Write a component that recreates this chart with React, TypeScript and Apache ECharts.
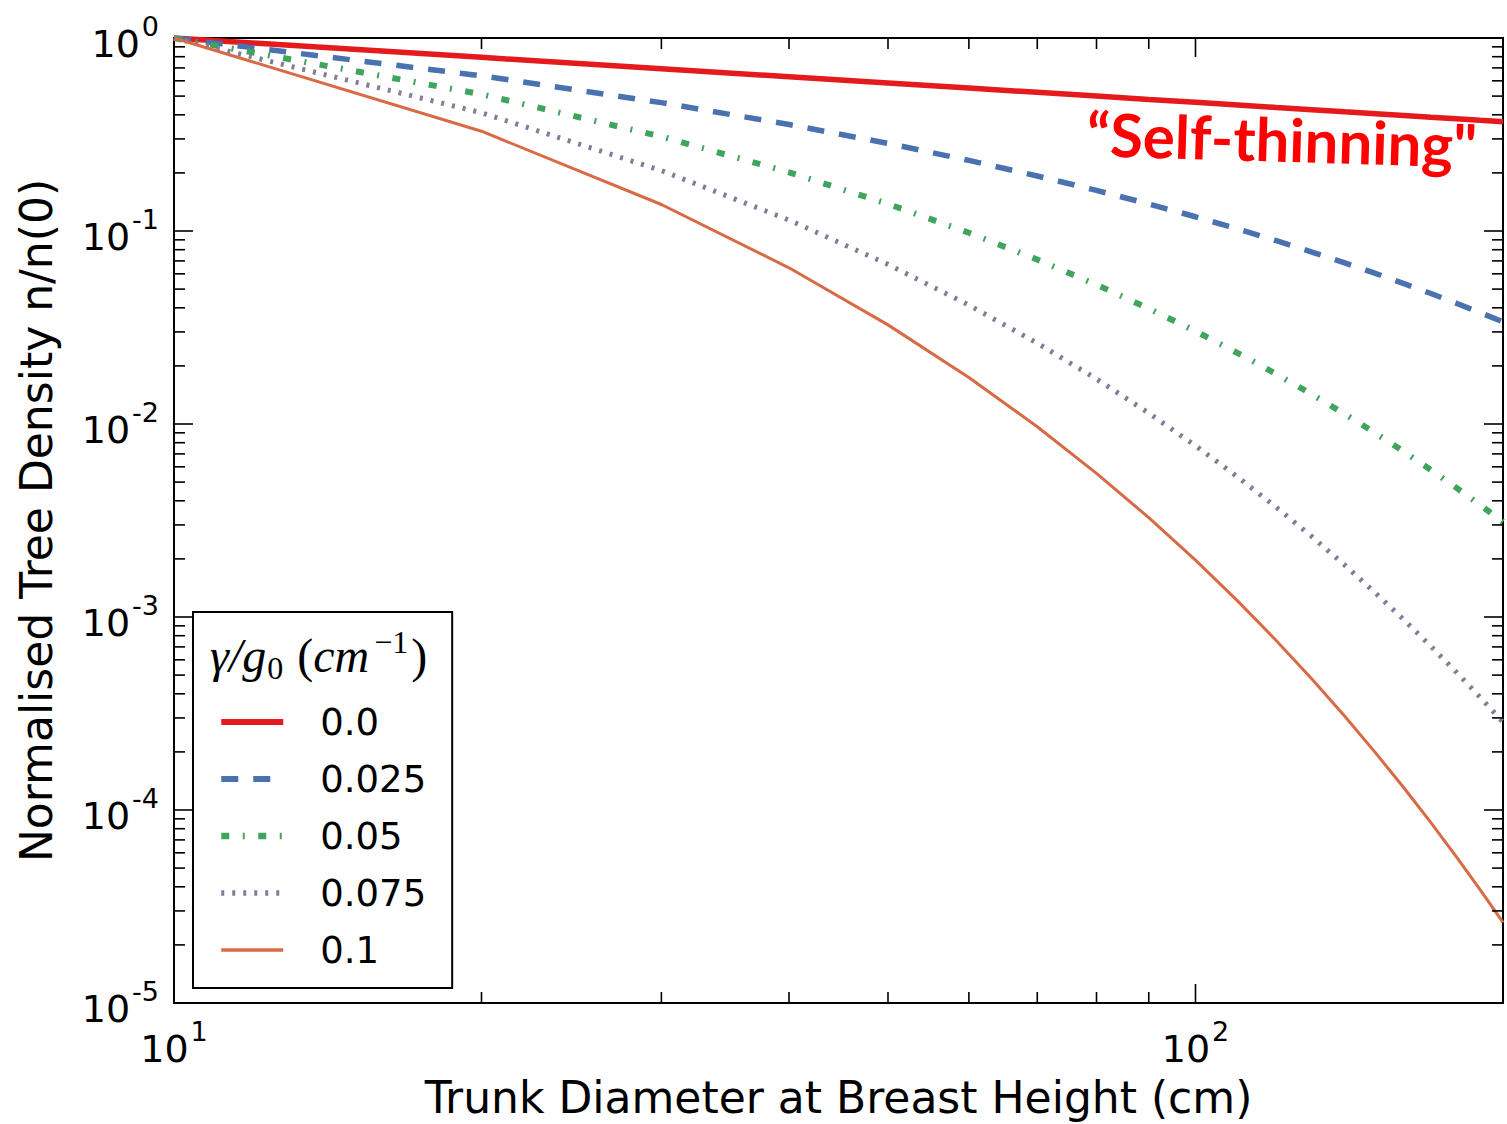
import React, { useEffect, useRef } from 'react';
import * as echarts from 'echarts';

// ---- data ----
const diameters = [10, 20, 30, 40, 50, 60, 70, 80, 90, 100, 110, 120, 130, 140, 150, 160, 170, 180, 190, 200];
const seriesNames = ['0.0', '0.025', '0.05', '0.075', '0.1'];
const density000 = [1, 0.7937, 0.6934, 0.63, 0.5848, 0.5503, 0.5228, 0.5, 0.4807, 0.4642, 0.4498, 0.4368, 0.4254, 0.4149, 0.4055, 0.3969, 0.3889, 0.3816, 0.3747, 0.3684];
const density025 = [1, 0.6368, 0.4624, 0.3562, 0.2843, 0.2321, 0.1928, 0.1623, 0.1381, 0.1185, 0.1024, 0.08903, 0.07782, 0.06835, 0.06029, 0.05338, 0.04742, 0.04226, 0.03776, 0.03383];
const density050 = [1, 0.5109, 0.3084, 0.2015, 0.1381, 0.09792, 0.07114, 0.05269, 0.03966, 0.03024, 0.02331, 0.01814, 0.01424, 0.01126, 0.008967, 0.007182, 0.005782, 0.004679, 0.003804, 0.003106];
const density075 = [1, 0.4099, 0.2057, 0.114, 0.06713, 0.04131, 0.02624, 0.01711, 0.01139, 0.007719, 0.005307, 0.003698, 0.002607, 0.001856, 0.001333, 0.0009661, 0.0007051, 0.0005182, 0.0003833, 0.0002852];
const density100 = [1, 0.3289, 0.1372, 0.06445, 0.03263, 0.01742, 0.009681, 0.005553, 0.003272, 0.00197, 0.001208, 0.0007536, 0.000477, 0.0003057, 0.0001983, 0.00013, 0.00008596, 0.00005738, 0.00003861, 0.00002618];
const allDensities = [density000, density025, density050, density075, density100];

// axis tick positions
const xMinorTicks = [20, 30, 40, 50, 60, 70, 80, 90];
const xMajorTicks = [100];
const yMajorTicks = [1e-4, 1e-3, 1e-2, 1e-1];
const yMinorMultipliers = [2, 3, 4, 5, 6, 7, 8, 9];
const yDecades = [1e-5, 1e-4, 1e-3, 1e-2, 1e-1];

// ---- styles ----
const lineStyles = [
  { color: '#e41a1c', width: 5.5, type: 'solid' as any },
  { color: '#4a72b0', width: 5.5, type: [17, 15] as any },
  { color: '#3fa45d', width: 6, type: [8, 13.5, 2, 13.5] as any },
  { color: '#857a98', width: 5, type: [3, 8] as any },
  { color: '#d86a45', width: 3, type: 'solid' as any },
];

const FONT = 'DejaVu Sans';

function powLabel(v: number): string {
  const e = Math.log10(v);
  const r = Math.round(e);
  if (Math.abs(e - r) > 1e-6) return '';
  return `{b|10}{s|${r < 0 ? '-' + -r : r}}`;
}

const labelRich = {
  b: { fontSize: 38, lineHeight: 50, verticalAlign: 'bottom', color: '#000', fontFamily: FONT },
  s: { fontSize: 27, lineHeight: 14, verticalAlign: 'top', color: '#000', fontFamily: FONT, padding: [0, 0, 0, 2] },
};

export default function App() {
  const ref = useRef<HTMLDivElement>(null);
  useEffect(() => {
    document.body.style.margin = '0';
    const chart = echarts.init(ref.current!, undefined, { renderer: 'svg' });

    const tickData: number[][] = [];
    xMinorTicks.forEach((v) => tickData.push([v, 1, 0, 0]));
    xMajorTicks.forEach((v) => tickData.push([v, 1, 0, 1]));
    yMajorTicks.forEach((v) => tickData.push([10, v, 1, 1]));
    yDecades.forEach((d) => yMinorMultipliers.forEach((m) => tickData.push([10, d * m, 1, 0])));

    const lineSeries = seriesNames.map((name, i) => ({
      name,
      type: 'line',
      data: diameters.map((d, j) => [d, allDensities[i][j]]),
      symbol: 'none',
      showSymbol: false,
      smooth: false,
      itemStyle: { color: lineStyles[i].color },
      lineStyle: { color: lineStyles[i].color, width: lineStyles[i].width, type: lineStyles[i].type, cap: 'butt' },
      z: 2 + i,
    }));

    const tickSeries = {
      name: 'ticks',
      type: 'custom',
      silent: true,
      clip: false,
      z: 20,
      data: tickData,
      renderItem: (params: any, api: any) => {
        const cs = params.coordSys;
        const kind = api.value(2);
        const len = api.value(3) ? 19 : 11;
        const style = { stroke: '#000', lineWidth: 1.6 };
        if (kind === 0) {
          const px = api.coord([api.value(0), 1])[0];
          return {
            type: 'group',
            children: [
              { type: 'line', shape: { x1: px, y1: cs.y + cs.height, x2: px, y2: cs.y + cs.height - len }, style },
              { type: 'line', shape: { x1: px, y1: cs.y, x2: px, y2: cs.y + len }, style },
            ],
          };
        }
        const py = api.coord([10, api.value(1)])[1];
        return {
          type: 'group',
          children: [
            { type: 'line', shape: { x1: cs.x, y1: py, x2: cs.x + len, y2: py }, style },
            { type: 'line', shape: { x1: cs.x + cs.width, y1: py, x2: cs.x + cs.width - len, y2: py }, style },
          ],
        };
      },
    };

    chart.setOption({
      animation: false,
      backgroundColor: '#fff',
      textStyle: { fontFamily: FONT },
      grid: { left: 174, top: 38, right: 4, bottom: 118, show: true, borderColor: '#000', borderWidth: 2, backgroundColor: 'transparent' },
      xAxis: {
        type: 'log',
        logBase: 10,
        min: 10,
        max: 200,
        name: 'Trunk Diameter at Breast Height (cm)',
        nameLocation: 'middle',
        nameGap: 72,
        nameTextStyle: { fontSize: 44, fontFamily: FONT, color: '#000' },
        axisLine: { show: false },
        axisTick: { show: false },
        splitLine: { show: false },
        minorTick: { show: false },
        axisLabel: { margin: 15, formatter: powLabel, rich: labelRich, color: '#000' },
      },
      yAxis: {
        type: 'log',
        logBase: 10,
        min: 1e-5,
        max: 1,
        name: 'Normalised Tree Density n/n(0)',
        nameLocation: 'middle',
        nameGap: 116,
        nameTextStyle: { fontSize: 44, fontFamily: FONT, color: '#000' },
        axisLine: { show: false },
        axisTick: { show: false },
        splitLine: { show: false },
        minorTick: { show: false },
        axisLabel: { margin: 15, formatter: powLabel, rich: labelRich, color: '#000' },
      },
      legend: {
        data: seriesNames.map((name, i) => ({
          name,
          itemStyle: { opacity: 0 },
          lineStyle: { color: lineStyles[i].color, width: lineStyles[i].width + 0.5, type: lineStyles[i].type, cap: 'butt' },
        })),
        orient: 'vertical',
        left: 193,
        top: 612,
        padding: [88, 26, 16, 25],
        itemWidth: 62,
        itemHeight: 20,
        itemGap: 13,
        borderColor: '#000',
        borderWidth: 2,
        borderRadius: 0,
        backgroundColor: '#fff',
        selectedMode: false,
        textStyle: { fontSize: 37, fontFamily: FONT, color: '#000', lineHeight: 44, padding: [0, 0, 0, 32] },
      },
      graphic: {
        elements: [
          {
            type: 'text',
            x: 210,
            y: 655,
            z: 100,
            style: {
              text: '{i|γ/g}{sub|0}{p|(}{i|cm}{sup|−1}{n|)}',
              align: 'left',
              verticalAlign: 'middle',
              fill: '#000',
              rich: {
                i: { fontSize: 48, fontStyle: 'italic', fontFamily: 'Liberation Serif', lineHeight: 58, verticalAlign: 'middle', fill: '#000' },
                n: { fontSize: 48, fontFamily: 'Liberation Serif', lineHeight: 58, verticalAlign: 'middle', fill: '#000' },
                p: { fontSize: 48, fontFamily: 'Liberation Serif', lineHeight: 58, verticalAlign: 'middle', fill: '#000', padding: [0, 0, 0, 14] },
                sub: { fontSize: 32, fontFamily: 'Liberation Serif', lineHeight: 25, verticalAlign: 'bottom', fill: '#000', padding: [0, 0, 0, 1] },
                sup: { fontSize: 32, fontFamily: 'Liberation Serif', lineHeight: 25, verticalAlign: 'top', fill: '#000', padding: [0, 3, 0, 5] },
              },
            },
          },
          {
            type: 'text',
            x: 1087,
            y: 133,
            rotation: -0.03,
            z: 100,
            style: {
              text: '“Self-thinning"',
              fontSize: 60,
              fontWeight: 'bold',
              fontFamily: 'Lato',
              fill: '#ff0000',
              align: 'left',
              verticalAlign: 'middle',
            },
          },
        ],
      },
      series: [...lineSeries, tickSeries],
    });
    return () => chart.dispose();
  }, []);
  return <div ref={ref} style={{ position: 'fixed', left: 0, top: 0, width: 1507, height: 1124, background: '#fff' }} />;
}
